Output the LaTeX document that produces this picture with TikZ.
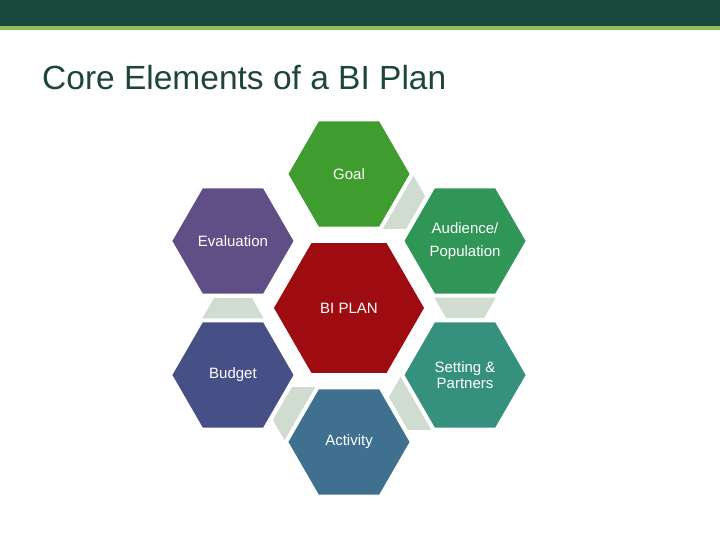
\documentclass[tikz,border=0pt]{standalone}
\usepackage{fontspec}
\setmainfont{Liberation Sans}
\usetikzlibrary{shapes.geometric}

\definecolor{barGreen}{HTML}{1A473C}
\definecolor{lineGreen}{HTML}{8CC05B}
\definecolor{titleGreen}{HTML}{1D4639}
\definecolor{goalGreen}{HTML}{3F9C2F}
\definecolor{audGreen}{HTML}{2F9657}
\definecolor{setTeal}{HTML}{35907E}
\definecolor{actBlue}{HTML}{3F708F}
\definecolor{budBlue}{HTML}{474F87}
\definecolor{evalPurple}{HTML}{604F86}
\definecolor{planRed}{HTML}{9E0C12}
\definecolor{linkGrey}{HTML}{CFDCCF}

\begin{document}
\begin{tikzpicture}[x=1pt,y=1pt,
	hexa/.style={regular polygon,regular polygon sides=6,minimum size=126pt,inner sep=0pt,
		draw=white,line width=4pt,text=white,align=center,font=\fontsize{15}{18}\selectfont},
	linkhex/.style={regular polygon,regular polygon sides=6,minimum size=76pt,inner sep=0pt,fill=linkGrey}]
	\useasboundingbox (0,0) rectangle (720,540);
	
	%top bar
	\fill[barGreen] (0,514) rectangle (720,540);
	\fill[lineGreen] (0,510) rectangle (720,514);
	\node[anchor=base west,inner sep=0pt,text=titleGreen,font=\fontsize{33.5}{40}\selectfont] (title) at (42,450) {Core Elements of a BI Plan};
	
	\begin{scope}[shift={(349,232)}]
	%small links
	\foreach \a in {71.2,11.2,-48.8,-108.8,191.2}{
		\node[linkhex] (link\a) at (\a:118.3) {};
	}
	
	%outer hexagons
	\node[hexa,fill=goalGreen]  (goal) at (90:134)   {Goal};
	\node[hexa,fill=audGreen]   (aud)  at (30:134)   {Audience/\\[5pt]Population};
	\node[hexa,fill=setTeal,font=\fontsize{15}{16}\selectfont] (set) at (-30:134) {Setting \&\\Partners};
	\node[hexa,fill=actBlue]    (act)  at (-90:134)  {Activity};
	\node[hexa,fill=budBlue]    (bud)  at (-150:134) {Budget};
	\node[hexa,fill=evalPurple] (eval) at (150:134)  {Evaluation};
	
	%center
	\node[hexa,fill=planRed,minimum size=155pt] (plan) at (0,0) {BI PLAN};
	\end{scope}
\end{tikzpicture}
\end{document}
